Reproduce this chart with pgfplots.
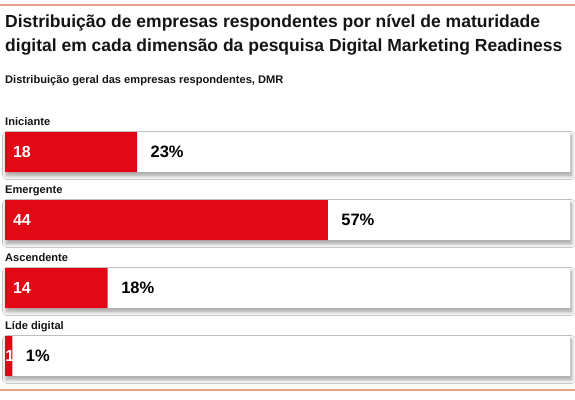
\documentclass[border=0pt]{standalone}
\usepackage{pgfplots}
\pgfplotsset{compat=1.18}
\usepackage{pgfplotstable}
\usepackage{fontspec}
\setmainfont{Liberation Sans}
\usetikzlibrary{shadows.blur}
\definecolor{dmrred}{RGB}{226,9,23}
\definecolor{rulec}{RGB}{232,162,140}
\definecolor{txt}{RGB}{20,20,20}

\pgfplotstableread[col sep=comma]{
y,zero,lx,total,count,pct,name
0,0,0,77,18,23,Iniciante
1,0,0,77,44,57,Emergente
2,0,0,77,14,18,Ascendente
3,0,-1.05,77,1,1,Líde digital
}\data

\begin{document}
\begin{tikzpicture}[x=1pt,y=1pt]
\useasboundingbox (0,0) rectangle (575,399);
\fill[white] (0,0) rectangle (575,399);
\draw[rulec, line width=2pt] (0,394) -- (575,394);
\draw[rulec, line width=2pt] (0,9) -- (575,9);
\node[anchor=base west, inner sep=0pt, text=txt, font=\bfseries\fontsize{17.5}{24}\selectfont] at (5,371.5) {Distribuição de empresas respondentes por nível de maturidade};
\node[anchor=base west, inner sep=0pt, text=txt, font=\bfseries\fontsize{17.5}{24}\selectfont] at (5,347.5) {digital em cada dimensão da pesquisa Digital Marketing Readiness};
\node[anchor=base west, inner sep=0pt, text=txt, font=\bfseries\fontsize{11.1}{12}\selectfont] at (5,315.5) {Distribuição geral das empresas respondentes, DMR};
\begin{axis}[
  at={(5pt,281pt)}, anchor=north west,
  scale only axis, width=565pt, height=272pt,
  xmin=0, xmax=77, ymin=-0.5, ymax=3.5, y dir=reverse,
  axis lines=none, clip=false,
]
\addplot[xbar, bar width=40pt, bar shift=0pt, fill=white, draw=none,
  blur shadow={shadow xshift=1.5pt, shadow yshift=-3.5pt, shadow blur steps=10, shadow blur radius=4pt, shadow opacity=40}]
  table[x=total, y=y] {\data};
\addplot[xbar, bar width=40pt, bar shift=0pt, fill=dmrred, draw=none,
  nodes near coords={\pgfplotspointmeta\%}, point meta=explicit symbolic,
  nodes near coords style={anchor=west, xshift=10pt, text=black, font=\bfseries\fontsize{16.5}{17}\selectfont}]
  table[x=count, y=y, meta=pct] {\data};
\addplot[draw=none, mark=none,
  nodes near coords, point meta=explicit symbolic,
  nodes near coords style={anchor=west, xshift=4.5pt, text=white, font=\bfseries\fontsize{16}{17}\selectfont}]
  table[x=lx, y=y, meta=count] {\data};
\addplot[draw=none, mark=none,
  nodes near coords, point meta=explicit symbolic,
  nodes near coords style={anchor=base west, inner sep=0pt, yshift=27pt, text=txt, font=\bfseries\fontsize{11.1}{12}\selectfont}]
  table[x=zero, y=y, meta=name] {\data};
\end{axis}
\end{tikzpicture}
\end{document}
